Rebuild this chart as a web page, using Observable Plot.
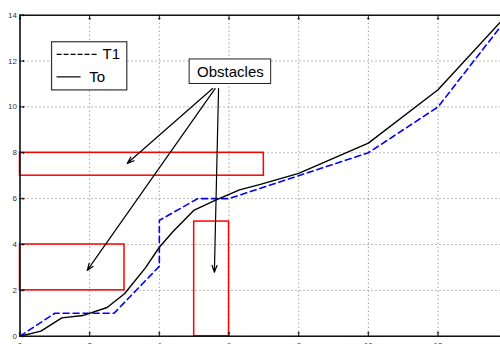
<!DOCTYPE html>
<html>
<head>
<meta charset="utf-8">
<script src="https://cdn.jsdelivr.net/npm/d3@7"></script>
<script src="https://cdn.jsdelivr.net/npm/@observablehq/plot@0.6"></script>
<style>
  html, body { margin: 0; padding: 0; background: #fff; overflow: hidden; width: 500px; height: 344px; }
  #chart svg { overflow: visible; display: block; max-width: none !important; }
</style>
</head>
<body>
<div id="chart"></div>
<script>
// ---- data ----
const xTicks = [0, 2, 4, 6, 8, 10, 12, 14];
const yTicks = [0, 2, 4, 6, 8, 10, 12, 14];

// path "To" (solid black)
const toX = [0, 0.6, 1.2, 1.8, 2.5, 3.0, 3.6, 4.0, 4.4, 5.0, 5.6, 6.3, 6.9, 8.0, 10.0, 12.0, 14.0];
const toY = [0, 0.22, 0.8, 0.9, 1.25, 1.85, 2.98, 3.88, 4.58, 5.5, 5.92, 6.38, 6.62, 7.1, 8.42, 10.75, 14.05];

// path "T1" (dashed blue)
const t1X = [0, 1.0, 2.7, 4.0, 4.0, 5.1, 6.0, 8.0, 10.0, 12.0, 14.0];
const t1Y = [0, 1.0, 1.0, 3.05, 5.05, 6.0, 6.0, 7.0, 8.0, 10.0, 13.9];

// obstacles (rectangles)
const obsX1 = [0, 0, 5];
const obsX2 = [7, 3, 6];
const obsY1 = [7, 2, 0];
const obsY2 = [8, 4, 5];

// annotation arrows from the "Obstacles" label
const arrX1 = [5.53, 5.6, 5.7];
const arrY1 = [10.8, 10.8, 10.8];
const arrX2 = [3.08, 1.93, 5.58];
const arrY2 = [7.54, 2.87, 2.79];

// "Obstacles" label box
const labelText = "Obstacles";
const labelBox = {x1: 4.87, x2: 7.21, y1: 11.0, y2: 12.07};
const labelPos = {x: 6.04, y: 11.52};

// legend
const legendBox = {x1: 0.92, x2: 3.08, y1: 10.72, y2: 12.82};
const legendNames = ["T1", "To"];
const legendSampleX1 = [1.05, 1.05];
const legendSampleX2 = [2.25, 1.74];
const legendRowY = [12.29, 11.31];
const legendTextX = [2.37, 1.99];

// ---- build tables ----
const toData = toX.map((x, i) => ({x, y: toY[i]}));
const t1Data = t1X.map((x, i) => ({x, y: t1Y[i]}));
const obstacles = obsX1.map((x1, i) => ({x1, x2: obsX2[i], y1: obsY1[i], y2: obsY2[i]}));
const arrows = arrX1.map((x1, i) => ({x1, y1: arrY1[i], x2: arrX2[i], y2: arrY2[i]}));
const legend = legendNames.map((name, i) => ({name, x1: legendSampleX1[i], x2: legendSampleX2[i], y: legendRowY[i], tx: legendTextX[i]}));

const font = "'Liberation Sans', Arial, Helvetica, sans-serif";

const chart = Plot.plot({
  width: 510,
  height: 344,
  marginLeft: 19.5,
  marginRight: 2.8,
  marginTop: 14.7,
  marginBottom: 8.3,
  x: {domain: [0, 14]},
  y: {domain: [0, 14]},
  style: {fontFamily: font, background: "#fff", overflow: "visible", maxWidth: "none"},
  marks: [
    Plot.gridX(xTicks, {stroke: "#777", strokeOpacity: 1, strokeDasharray: "1,3", strokeWidth: 1}),
    Plot.gridY(yTicks, {stroke: "#777", strokeOpacity: 1, strokeDasharray: "1,3", strokeWidth: 1}),
    Plot.rect(obstacles, {x1: "x1", x2: "x2", y1: "y1", y2: "y2", fill: "none", stroke: "#ff0000", strokeWidth: 1.5}),
    Plot.line(t1Data, {x: "x", y: "y", stroke: "#0000ff", strokeWidth: 1.6, strokeDasharray: "6,4"}),
    Plot.line(toData, {x: "x", y: "y", stroke: "#000", strokeWidth: 1.4}),
    Plot.ruleY([0, 14], {stroke: "#111", strokeWidth: 1.6}),
    Plot.ruleX([0], {stroke: "#111", strokeWidth: 1.6}),
    // inward ticks
    Plot.vector(xTicks, {x: d => d, y: 0, rotate: 0, length: 4, anchor: "start", stroke: "#111", strokeWidth: 1}),
    Plot.vector(xTicks, {x: d => d, y: 14, rotate: 180, length: 4, anchor: "start", stroke: "#111", strokeWidth: 1}),
    Plot.vector(yTicks, {x: 0, y: d => d, rotate: 90, length: 4, anchor: "start", stroke: "#111", strokeWidth: 1}),
    Plot.axisX({ticks: xTicks, tickSize: 0, tickPadding: 6, fontSize: 8, fill: "#333"}),
    Plot.axisY({ticks: yTicks, tickSize: 0, tickPadding: 3, fontSize: 8, fill: "#333"}),
    // arrows
    Plot.arrow(arrows, {x1: "x1", y1: "y1", x2: "x2", y2: "y2", stroke: "#000", strokeWidth: 1.2, headLength: 9, headAngle: 40}),
    // label box
    Plot.rect([labelBox], {x1: "x1", x2: "x2", y1: "y1", y2: "y2", fill: "#fff", stroke: "#222", strokeWidth: 1}),
    Plot.text([labelText], {x: labelPos.x, y: labelPos.y, text: d => d, fontSize: 15, fill: "#000"}),
    // legend
    Plot.rect([legendBox], {x1: "x1", x2: "x2", y1: "y1", y2: "y2", fill: "#fff", stroke: "#333", strokeWidth: 1.2}),
    Plot.link(legend.slice(0, 1), {x1: "x1", x2: "x2", y1: "y", y2: "y", stroke: "#000", strokeWidth: 1.2, strokeDasharray: "5,2"}),
    Plot.link(legend.slice(1), {x1: "x1", x2: "x2", y1: "y", y2: "y", stroke: "#000", strokeWidth: 1.2}),
    Plot.text(legend, {x: "tx", y: "y", text: "name", textAnchor: "start", fontSize: 15, fill: "#000"})
  ]
});
document.getElementById("chart").appendChild(chart);
</script>
</body>
</html>
